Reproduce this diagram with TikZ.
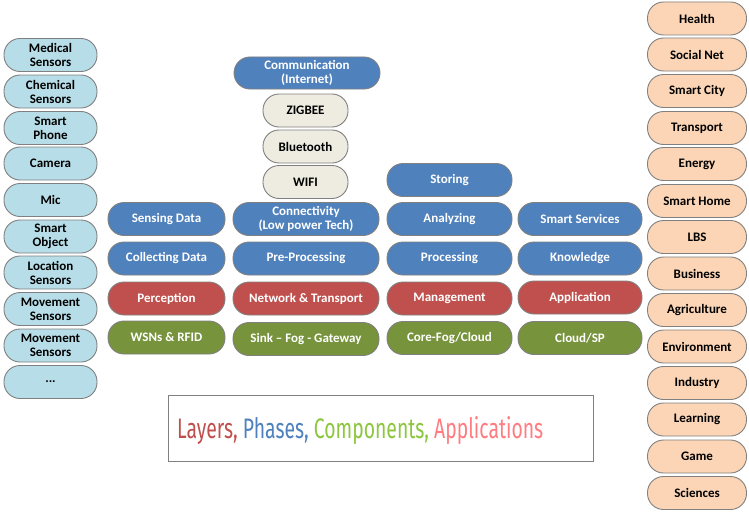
\documentclass[tikz,border=0pt]{standalone}
\usepackage{fontspec}
\setmainfont{Carlito}
\newfontfamily\legendfont{Fira Sans}
\definecolor{pblue}{HTML}{4F81BD}
\definecolor{lred}{HTML}{C0504D}
\definecolor{cgreen}{HTML}{77933C}
\definecolor{lblue}{HTML}{B7DEE8}
\definecolor{peach}{HTML}{FBD5B5}
\definecolor{beige}{HTML}{EEECE1}
\definecolor{bordergray}{HTML}{808080}
\definecolor{lgreen}{HTML}{8DC63F}
\definecolor{salmon}{HTML}{FF7C80}
\tikzset{
 pill/.style={draw=bordergray, line width=0.9pt, rounded corners=16pt, minimum height=33pt, inner sep=0pt, align=center, font=\bfseries\fontsize{13}{14}\selectfont},
 sensor/.style={pill, fill=lblue, minimum width=93pt},
 appbox/.style={pill, fill=peach, minimum width=99pt},
 phase/.style={pill, fill=pblue, text=white},
 layer/.style={pill, fill=lred, text=white},
 comp/.style={pill, fill=cgreen, text=white},
 tech/.style={pill, fill=beige, minimum width=85pt},
 colA/.style={minimum width=117pt},
 colB/.style={minimum width=146pt},
 colC/.style={minimum width=125pt},
 colD/.style={minimum width=124pt},
}
\begin{document}
\begin{tikzpicture}[x=1pt,y=-1pt]
\useasboundingbox[fill=white] (0,0) rectangle (749,511);
% left column
\node[sensor] (s1) at (50.5,55) {Medical\\Sensors};
\node[sensor] (s2) at (50.5,91.5) {Chemical\\Sensors};
\node[sensor] (s3) at (50.5,128) {Smart\\Phone};
\node[sensor] (s4) at (50.5,163.5) {Camera};
\node[sensor] (s5) at (50.5,200) {Mic};
\node[sensor] (s6) at (50.5,236.5) {Smart\\Object};
\node[sensor] (s7) at (50.5,272.5) {Location\\Sensors};
\node[sensor] (s8) at (50.5,309) {Movement\\Sensors};
\node[sensor] (s9) at (50.5,345.5) {Movement\\Sensors};
\node[sensor] (s10) at (50.5,382) {...};
% right column
\node[appbox] (a1) at (697,18.5) {Health};
\node[appbox] (a2) at (697,54.5) {Social Net};
\node[appbox] (a3) at (697,91) {Smart City};
\node[appbox] (a4) at (697,128) {Transport};
\node[appbox] (a5) at (697,164) {Energy};
\node[appbox] (a6) at (697,201) {Smart Home};
\node[appbox] (a7) at (697,237) {LBS};
\node[appbox] (a8) at (697,273.5) {Business};
\node[appbox] (a9) at (697,310) {Agriculture};
\node[appbox] (a10) at (697,346.5) {Environment};
\node[appbox] (a11) at (697,383) {Industry};
\node[appbox] (a12) at (697,419.5) {Learning};
\node[appbox] (a13) at (697,456.5) {Game};
\node[appbox] (a14) at (697,493) {Sciences};
% communication stack
\node[phase,colB,minimum height=32pt] (comm) at (307,73) {Communication\\(Internet)};
\node[tech] (zig) at (305.5,110.5) {ZIGBEE};
\node[tech] (bt) at (305.5,146.5) {Bluetooth};
\node[tech] (wifi) at (305.5,182) {WIFI};
\node[phase,colC] (store) at (449.5,180) {Storing};
% row A
\node[phase,colA] (pA1) at (166.5,219) {Sensing Data};
\node[phase,colB] (pA2) at (306,219) {Connectivity\\(Low power Tech)};
\node[phase,colC] (pA3) at (449.5,219) {Analyzing};
\node[phase,colD] (pA4) at (580,219) {Smart Services};
% row B
\node[phase,colA] (pB1) at (166.5,258.5) {Collecting Data};
\node[phase,colB] (pB2) at (306,258.5) {Pre-Processing};
\node[phase,colC] (pB3) at (449.5,258.5) {Processing};
\node[phase,colD] (pB4) at (580,258.5) {Knowledge};
% row C layers
\node[layer,colA] (l1) at (166.5,298.5) {Perception};
\node[layer,colB] (l2) at (306,298.5) {Network \& Transport};
\node[layer,colC] (l3) at (449.5,298.5) {Management};
\node[layer,colD] (l4) at (580,297.5) {Application};
% row D components
\node[comp,colA] (c1) at (166.5,337.5) {WSNs \& RFID};
\node[comp,colB] (c2) at (306,339) {Sink -- Fog - Gateway};
\node[comp,colC] (c3) at (449.5,338) {Core-Fog/Cloud};
\node[comp,colD] (c4) at (580,338) {Cloud/SP};
% legend
\node[draw=bordergray, line width=1pt, minimum width=425pt, minimum height=66pt, inner sep=0pt] (legend) at (380.5,428) {};
\node[anchor=base west, inner sep=0pt] (legendtext) at (177,438) {\resizebox{366pt}{22pt}{\legendfont\textcolor{lred}{Layers,} \textcolor{pblue}{Phases,} \textcolor{lgreen}{Components,} \textcolor{salmon}{Applications}}};
\end{tikzpicture}
\end{document}
